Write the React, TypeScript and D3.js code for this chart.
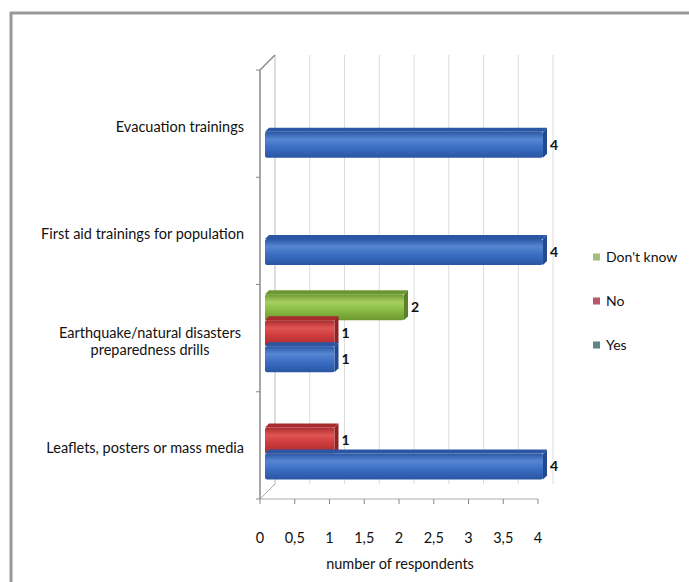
import React from "react";
import * as d3 from "d3";

const width = 689;
const height = 582;

const categories = [
  "Evacuation trainings",
  "First aid trainings for population",
  "Earthquake/natural disasters|preparedness drills",
  "Leaflets, posters or mass media",
];
const seriesNames = ["Don't know", "No", "Yes"];
const yesValues = [4, 4, 1, 4];
const noValues = [0, 0, 1, 1];
const dontKnowValues = [0, 0, 2, 0];
const xTicks = [0, 0.5, 1, 1.5, 2, 2.5, 3, 3.5, 4];
const xTickLabels = ["0", "0,5", "1", "1,5", "2", "2,5", "3", "3,5", "4"];

const font = "Lato, 'Open Sans', sans-serif";
const textColor = "#111";
const fs = 14.5;

// 3d offsets: back wall sits 15px right/up of the front plane
const depth = 15;
const barOff = 5; // bar front face offset
const barDepth = 4;

const x = d3.scaleLinear().domain([0, 4]).range([260, 538]);
const y = d3.scaleBand().domain(categories).range([70, 499]);
const slot = d3
  .scaleBand()
  .domain(seriesNames)
  .range([0, y.bandwidth()])
  .paddingOuter(0.5625)
  .paddingInner(0);

const colors: Record<string, { base: string; light: string; dark: string; side: string; legend: string }> = {
  Yes: { base: "#3b6ec3", light: "#5686d3", dark: "#2a56a3", side: "#23498e", legend: "#5d8787" },
  No: { base: "#cf3b3d", light: "#e05453", dark: "#a82b2e", side: "#8e2326", legend: "#b8586a" },
  "Don't know": { base: "#8cbd45", light: "#a6cf60", dark: "#6d982f", side: "#5b8226", legend: "#a3bd7a" },
};

const valuesFor = (s: string) =>
  s === "Yes" ? yesValues : s === "No" ? noValues : dontKnowValues;

const App = () => {
  const bars: JSX.Element[] = [];
  categories.forEach((c, i) => {
    seriesNames.forEach((s) => {
      const v = valuesFor(s)[i];
      if (!v) return;
      const col = colors[s];
      const x0 = x(0) + barOff;
      const x1 = x(v) + barOff;
      const y0 = (y(c) as number) + (slot(s) as number) - barOff;
      const h = slot.bandwidth();
      const d = barDepth;
      bars.push(
        <g key={c + s}>
          <path
            d={`M${x0},${y0} L${x0 + d},${y0 - d} L${x1 + d},${y0 - d} L${x1},${y0} Z`}
            fill={col.dark}
          />
          <path
            d={`M${x1},${y0} L${x1 + d},${y0 - d} L${x1 + d},${y0 + h - d} L${x1},${y0 + h} Z`}
            fill={col.side}
          />
          <rect x={x0} y={y0} width={x1 - x0} height={h} fill={`url(#grad-${s.replace(/\W/g, "")})`} rx={2} />
          <text
            x={x1 + d + 3}
            y={y0 + h / 2}
            dy="0.35em"
            fontSize={14}
            fontWeight="bold"
            fill={textColor}
            fontFamily={font}
          >
            {v}
          </text>
        </g>
      );
    });
  });

  return (
    <svg
      width={width}
      height={height}
      style={{ position: "absolute", left: 0, top: 0, background: "#fff" }}
    >
      <defs>
        {seriesNames.map((s) => (
          <linearGradient key={s} id={`grad-${s.replace(/\W/g, "")}`} x1="0" y1="0" x2="0" y2="1">
            <stop offset="0%" stopColor={colors[s].dark} />
            <stop offset="30%" stopColor={colors[s].light} />
            <stop offset="60%" stopColor={colors[s].base} />
            <stop offset="100%" stopColor={colors[s].dark} />
          </linearGradient>
        ))}
      </defs>

      {/* outer frame */}
      <rect x={11} y={13} width={700} height={600} fill="none" stroke="#999" strokeWidth={3} />

      {/* back wall gridlines */}
      {xTicks.map((t) => (
        <line
          key={t}
          x1={x(t) + depth}
          x2={x(t) + depth}
          y1={70 - depth}
          y2={499 - depth}
          stroke={t === 0 ? "#bbb" : "#dcdcdc"}
          strokeWidth={1}
        />
      ))}

      {/* side wall / floor edges */}
      <line x1={x(0)} y1={70} x2={x(0) + depth} y2={70 - depth} stroke="#888" strokeWidth={1.5} />
      <line x1={x(0)} y1={499} x2={x(0) + depth} y2={499 - depth} stroke="#aaa" />
      <line x1={x(0)} y1={70} x2={x(0)} y2={499} stroke="#888" strokeWidth={1.5} />
      <line x1={x(0)} y1={499} x2={x(4)} y2={499} stroke="#aaa" />
      {xTicks.map((t) => (
        <line key={"t" + t} x1={x(t)} x2={x(t)} y1={499} y2={504} stroke="#888" />
      ))}
      {[70, ...categories.map((c) => (y(c) as number) + y.bandwidth())].map((v) => (
        <line key={"c" + v} x1={x(0) - 4} x2={x(0)} y1={v} y2={v} stroke="#888" />
      ))}

      {bars}

      {/* x tick labels */}
      {xTicks.map((t, i) => (
        <text
          key={"l" + t}
          x={x(t)}
          y={538}
          dy="0.35em"
          textAnchor="middle"
          fontSize={fs}
          fill={textColor}
          fontFamily={font}
        >
          {xTickLabels[i]}
        </text>
      ))}
      <text x={400} y={564} dy="0.35em" textAnchor="middle" fontSize={fs} fill={textColor} fontFamily={font}>
        number of respondents
      </text>

      {/* category labels */}
      {categories.map((c) => {
        const lines = c.split("|");
        const cy = (y(c) as number) + y.bandwidth() / 2 + 3;
        if (lines.length === 1) {
          return (
            <text key={c} x={244} y={cy} dy="0.35em" textAnchor="end" fontSize={fs} fill={textColor} fontFamily={font}>
              {c}
            </text>
          );
        }
        return (
          <text key={c} x={150} y={cy - 8.5} textAnchor="middle" fontSize={fs} fill={textColor} fontFamily={font}>
            {lines.map((l, j) => (
              <tspan key={j} x={150} dy={j === 0 ? "0.35em" : 17.5}>
                {l}
              </tspan>
            ))}
          </text>
        );
      })}

      {/* legend */}
      {seriesNames.map((s, i) => (
        <g key={"lg" + s} transform={`translate(593, ${257 + i * 44})`}>
          <rect x={0} y={-3.5} width={7} height={7} fill={colors[s].legend} />
          <text x={13} y={0} dy="0.35em" fontSize={14} fill={textColor} fontFamily={font}>
            {s}
          </text>
        </g>
      ))}
    </svg>
  );
};

export default App;
